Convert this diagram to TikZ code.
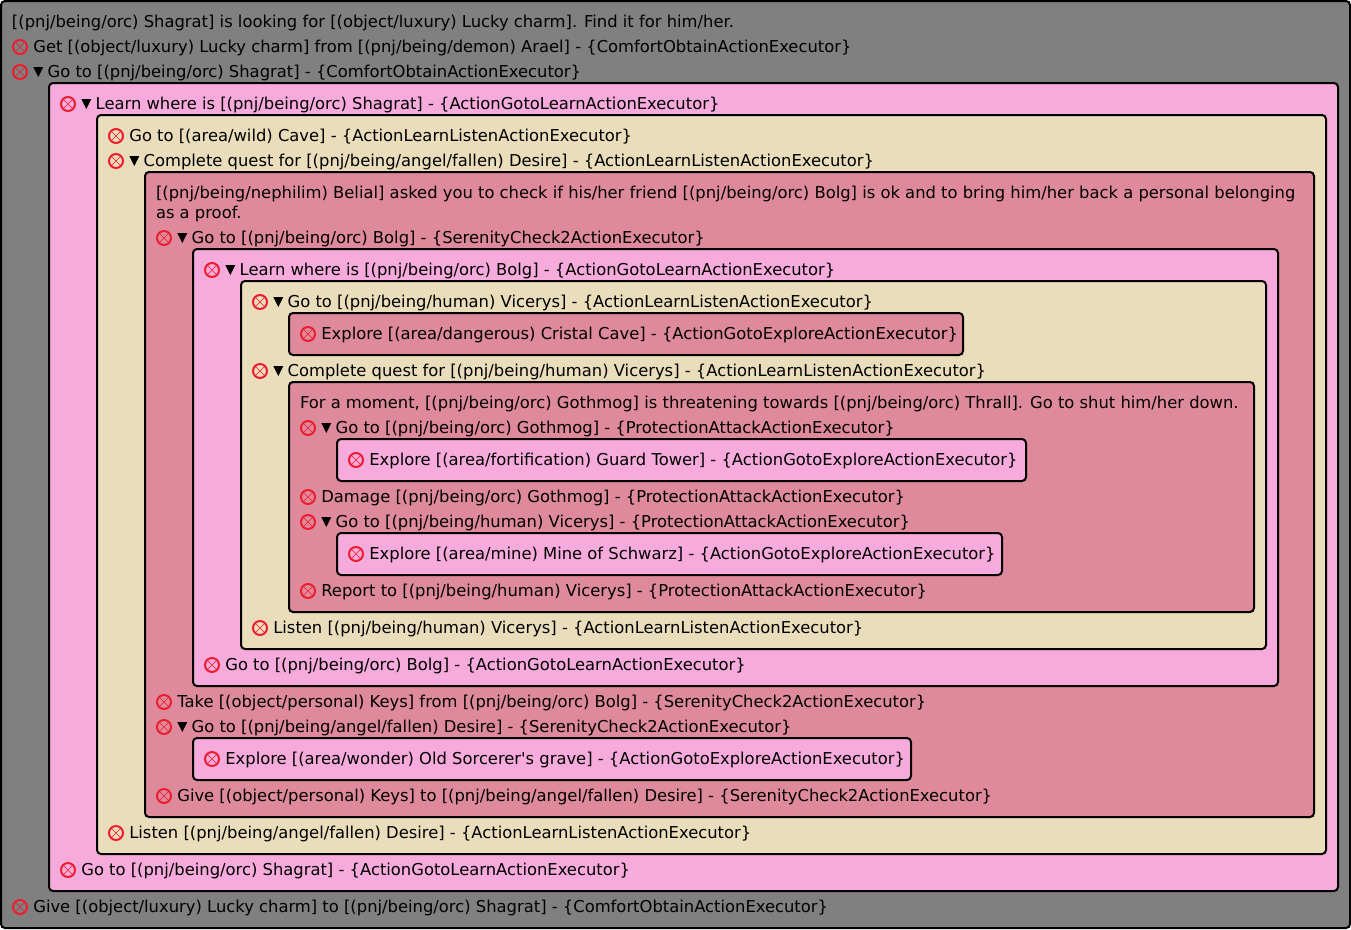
\documentclass[tikz,border=0pt]{standalone}
\usepackage{fontspec}
\usepackage{xcolor}
\usetikzlibrary{positioning}
\newfontfamily\taskfont{DejaVu Sans}
\definecolor{rootgrey}{HTML}{808080}
\definecolor{panelpink}{HTML}{F6ABDC}
\definecolor{paneltan}{HTML}{EADDBB}
\definecolor{panelrose}{HTML}{DF8A9C}
\definecolor{stopred}{HTML}{ED1C2E}
\newcommand{\panelbox}[3]{%
  \fill[#1] #2 rectangle #3;
  \draw[panelline] #2 rectangle #3;}
\begin{document}
\begin{tikzpicture}[
    x=0.75pt, y=-0.75pt,
    node distance=4.75pt,
    panelline/.style={draw=black, line width=1.5pt, rounded corners=3pt},
    tasklabel/.style={font=\taskfont\fontsize{12.27}{14}\selectfont, inner sep=0pt, outer sep=0pt, text height=10pt, text depth=2pt, anchor=west},
    stopicon/.style={circle, draw=stopred, line width=1.5pt, minimum size=10.5pt, inner sep=0pt, outer sep=0pt,
        path picture={\draw[stopred, line width=0.4pt] (path picture bounding box.south west) -- (path picture bounding box.north east)
            (path picture bounding box.north west) -- (path picture bounding box.south east);}},
    toggle/.style={rectangle, minimum size=7.5pt, inner sep=0pt, outer sep=0pt,
        path picture={\fill[black] (path picture bounding box.north west) -- (path picture bounding box.north east) -- (path picture bounding box.south) -- cycle;}}
]
\useasboundingbox (0,0) rectangle (1351,929);
% nested panels
\panelbox{rootgrey}{(1,1)}{(1350,928)}
\panelbox{panelpink}{(49,83)}{(1338,891)}
\panelbox{paneltan}{(97,115)}{(1326,854)}
\panelbox{panelrose}{(145,172)}{(1314,817)}
\panelbox{panelpink}{(193,249)}{(1278,686)}
\panelbox{paneltan}{(241,281)}{(1266,649)}
\panelbox{panelrose}{(289,313)}{(963,355)}
\panelbox{panelrose}{(289,382)}{(1254,612)}
\panelbox{panelpink}{(337,439)}{(1026,481)}
\panelbox{panelpink}{(337,533)}{(1002,575)}
\panelbox{panelpink}{(193,738)}{(911,780)}
% top level
\node[tasklabel] (intro) at (12,22) {[(pnj/being/orc) Shagrat] is looking for [(object/luxury) Lucky charm]. Find it for him/her.};
\node[stopicon] (geticon) at (20,47) {};
\node[tasklabel, right=of geticon] (getcharm) {Get [(object/luxury) Lucky charm] from [(pnj/being/demon) Arael] - \{ComfortObtainActionExecutor\}};
\node[stopicon] (gotoicon) at (20,72) {};
\node[toggle, right=of gotoicon] (gotoarrow) {};
\node[tasklabel, right=3.25pt of gotoarrow] (gotoshagrat) {Go to [(pnj/being/orc) Shagrat] - \{ComfortObtainActionExecutor\}};
\node[stopicon] (giveicon) at (20,907) {};
\node[tasklabel, right=of giveicon] (givecharm) {Give [(object/luxury) Lucky charm] to [(pnj/being/orc) Shagrat] - \{ComfortObtainActionExecutor\}};
% first pink panel
\node[stopicon] (learnicon) at (68,104) {};
\node[toggle, right=of learnicon] (learnarrow) {};
\node[tasklabel, right=3.25pt of learnarrow] (learnshagrat) {Learn where is [(pnj/being/orc) Shagrat] - \{ActionGotoLearnActionExecutor\}};
\node[stopicon] (backicon) at (68,870) {};
\node[tasklabel, right=of backicon] (backshagrat) {Go to [(pnj/being/orc) Shagrat] - \{ActionGotoLearnActionExecutor\}};
% first tan panel
\node[stopicon] (caveicon) at (116,136) {};
\node[tasklabel, right=of caveicon] (cave) {Go to [(area/wild) Cave] - \{ActionLearnListenActionExecutor\}};
\node[stopicon] (questicon) at (116,161) {};
\node[toggle, right=of questicon] (questarrow) {};
\node[tasklabel, right=3.25pt of questarrow] (questdesire) {Complete quest for [(pnj/being/angel/fallen) Desire] - \{ActionLearnListenActionExecutor\}};
\node[stopicon] (listenicon) at (116,833) {};
\node[tasklabel, right=of listenicon] (listendesire) {Listen [(pnj/being/angel/fallen) Desire] - \{ActionLearnListenActionExecutor\}};
% first rose panel
\node[tasklabel] (askline) at (156,193) {[(pnj/being/nephilim) Belial] asked you to check if his/her friend [(pnj/being/orc) Bolg] is ok and to bring him/her back a personal belonging};
\node[tasklabel] (proofline) at (156,213) {as a proof.};
\node[stopicon] (bolgicon) at (164,238) {};
\node[toggle, right=of bolgicon] (bolgarrow) {};
\node[tasklabel, right=3.25pt of bolgarrow] (gotobolg) {Go to [(pnj/being/orc) Bolg] - \{SerenityCheck2ActionExecutor\}};
\node[stopicon] (takeicon) at (164,702) {};
\node[tasklabel, right=of takeicon] (takekeys) {Take [(object/personal) Keys] from [(pnj/being/orc) Bolg] - \{SerenityCheck2ActionExecutor\}};
\node[stopicon] (desireicon) at (164,727) {};
\node[toggle, right=of desireicon] (desirearrow) {};
\node[tasklabel, right=3.25pt of desirearrow] (gotodesire) {Go to [(pnj/being/angel/fallen) Desire] - \{SerenityCheck2ActionExecutor\}};
\node[stopicon] (keysicon) at (164,796) {};
\node[tasklabel, right=of keysicon] (givekeys) {Give [(object/personal) Keys] to [(pnj/being/angel/fallen) Desire] - \{SerenityCheck2ActionExecutor\}};
% second pink panel and grave panel
\node[stopicon] (whereicon) at (212,270) {};
\node[toggle, right=of whereicon] (wherearrow) {};
\node[tasklabel, right=3.25pt of wherearrow] (learnbolg) {Learn where is [(pnj/being/orc) Bolg] - \{ActionGotoLearnActionExecutor\}};
\node[stopicon] (bolgbackicon) at (212,665) {};
\node[tasklabel, right=of bolgbackicon] (backbolg) {Go to [(pnj/being/orc) Bolg] - \{ActionGotoLearnActionExecutor\}};
\node[stopicon] (graveicon) at (212,759) {};
\node[tasklabel, right=of graveicon] (grave) {Explore [(area/wonder) Old Sorcerer's grave] - \{ActionGotoExploreActionExecutor\}};
% second tan panel
\node[stopicon] (vicerysicon) at (260,302) {};
\node[toggle, right=of vicerysicon] (vicerysarrow) {};
\node[tasklabel, right=3.25pt of vicerysarrow] (gotovicerys) {Go to [(pnj/being/human) Vicerys] - \{ActionLearnListenActionExecutor\}};
\node[stopicon] (completeicon) at (260,371) {};
\node[toggle, right=of completeicon] (completearrow) {};
\node[tasklabel, right=3.25pt of completearrow] (questvicerys) {Complete quest for [(pnj/being/human) Vicerys] - \{ActionLearnListenActionExecutor\}};
\node[stopicon] (hearicon) at (260,628) {};
\node[tasklabel, right=of hearicon] (listenvicerys) {Listen [(pnj/being/human) Vicerys] - \{ActionLearnListenActionExecutor\}};
% cristal cave and big rose panel
\node[stopicon] (cristalicon) at (308,334) {};
\node[tasklabel, right=of cristalicon] (cristal) {Explore [(area/dangerous) Cristal Cave] - \{ActionGotoExploreActionExecutor\}};
\node[tasklabel] (threatline) at (300,403) {For a moment, [(pnj/being/orc) Gothmog] is threatening towards [(pnj/being/orc) Thrall]. Go to shut him/her down.};
\node[stopicon] (gothmogicon) at (308,428) {};
\node[toggle, right=of gothmogicon] (gothmogarrow) {};
\node[tasklabel, right=3.25pt of gothmogarrow] (gotogothmog) {Go to [(pnj/being/orc) Gothmog] - \{ProtectionAttackActionExecutor\}};
\node[stopicon] (damageicon) at (308,497) {};
\node[tasklabel, right=of damageicon] (damage) {Damage [(pnj/being/orc) Gothmog] - \{ProtectionAttackActionExecutor\}};
\node[stopicon] (returnicon) at (308,522) {};
\node[toggle, right=of returnicon] (returnarrow) {};
\node[tasklabel, right=3.25pt of returnarrow] (returnvicerys) {Go to [(pnj/being/human) Vicerys] - \{ProtectionAttackActionExecutor\}};
\node[stopicon] (reporticon) at (308,591) {};
\node[tasklabel, right=of reporticon] (report) {Report to [(pnj/being/human) Vicerys] - \{ProtectionAttackActionExecutor\}};
% innermost panels
\node[stopicon] (guardicon) at (356,460) {};
\node[tasklabel, right=of guardicon] (guard) {Explore [(area/fortification) Guard Tower] - \{ActionGotoExploreActionExecutor\}};
\node[stopicon] (mineicon) at (356,554) {};
\node[tasklabel, right=of mineicon] (mine) {Explore [(area/mine) Mine of Schwarz] - \{ActionGotoExploreActionExecutor\}};
\end{tikzpicture}
\end{document}
